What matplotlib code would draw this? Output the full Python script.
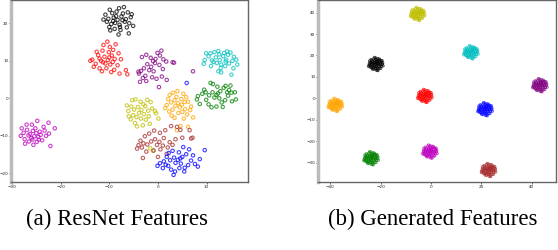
import matplotlib
matplotlib.use("Agg")
import matplotlib.pyplot as plt

# ---- (a) ResNet features: points, one list per class ----
res_black = [(-8.3, 20.9), (-9.1, 21.5), (-7.5, 21.8), (-8.8, 20.1), (-7.9, 19.6), (-9.6, 19.8),
             (-10.2, 21.2), (-6.8, 20.4), (-7.2, 22.6), (-8.5, 23.1), (-9.4, 22.7), (-10.8, 22.3),
             (-6.2, 22.9), (-5.6, 21.6), (-5.1, 19.3), (-6.4, 18.9), (-8.9, 18.5), (-9.8, 18.1),
             (-7.7, 18.2), (-10.5, 20.4), (-11.2, 21.0), (-7.0, 24.3), (-8.0, 24.0), (-9.9, 23.6),
             (-5.4, 22.4), (-6.0, 17.3), (-8.1, 17.0), (-7.3, 20.8), (-8.6, 21.9), (-6.6, 21.1),
             (-9.2, 20.6), (-7.8, 19.0), (-10.0, 19.0), (-5.9, 20.0)]
res_red = [(-10.3, 10.2), (-11.0, 11.1), (-9.5, 11.4), (-10.8, 9.3), (-9.8, 9.0), (-11.7, 10.0),
           (-12.3, 11.5), (-8.9, 10.5), (-10.1, 12.3), (-11.4, 12.7), (-9.2, 12.9), (-12.8, 9.2),
           (-13.5, 10.3), (-13.9, 10.0), (-12.0, 8.0), (-10.6, 8.0), (-9.0, 7.6), (-8.3, 8.8),
           (-7.6, 10.4), (-8.1, 12.0), (-9.9, 13.7), (-11.2, 14.2), (-10.4, 15.1), (-8.7, 14.4),
           (-12.6, 12.4), (-11.5, 7.2), (-9.6, 7.0), (-7.9, 6.6), (-6.6, 7.5), (-6.3, 6.4),
           (-13.2, 8.4), (-10.0, 10.9), (-11.3, 9.6), (-12.0, 10.6), (-9.3, 9.7)]
res_purple = [(-1.4, 8.4), (-2.2, 9.1), (-0.6, 9.4), (-1.8, 7.5), (-0.9, 7.2), (-2.9, 8.0),
              (-3.5, 7.3), (-3.9, 6.6), (-2.6, 6.0), (-1.2, 5.6), (-0.3, 5.2), (-3.1, 5.4),
              (-3.7, 4.4), (-2.4, 4.6), (0.8, 5.8), (1.0, 7.8), (0.3, 8.9), (-0.5, 10.5),
              (0.4, 11.4), (0.7, 12.7), (-0.1, 12.1), (-1.5, 10.8), (-2.4, 11.6), (-3.3, 11.0),
              (1.7, 9.8), (1.1, 10.4), (3.3, 9.5), (3.0, 9.6), (7.2, 7.2), (1.8, 4.9),
              (0.2, 3.0), (-4.0, 7.1), (-1.0, 9.9)]
res_cyan = [(12.7, 10.2), (11.9, 10.9), (13.4, 11.2), (12.1, 9.4), (13.0, 9.0), (11.1, 10.1),
            (10.4, 11.2), (9.6, 10.2), (9.4, 9.2), (10.8, 12.0), (11.6, 12.3), (12.4, 12.6),
            (13.6, 12.1), (14.4, 11.6), (14.9, 12.2), (15.6, 11.1), (16.1, 10.3), (15.3, 10.0),
            (14.6, 9.3), (14.0, 10.3), (13.8, 8.6), (12.9, 8.1), (12.4, 7.2), (13.0, 6.9),
            (15.5, 8.0), (15.1, 6.3), (10.9, 8.6), (11.4, 9.7), (12.6, 11.7), (13.9, 9.8),
            (9.9, 12.0), (16.3, 9.0), (14.2, 12.5)]
res_green = [(12.0, 0.9), (11.2, 1.6), (12.8, 1.9), (11.6, 0.2), (12.6, 0.0), (10.5, 0.8),
             (9.8, 1.6), (9.1, 1.2), (8.2, 0.6), (8.0, -0.3), (8.6, -1.5), (9.9, -0.4),
             (10.4, -1.6), (11.0, -2.4), (12.0, -2.2), (13.1, -1.1), (13.8, -0.5), (14.4, 0.7),
             (15.1, 1.5), (15.8, 1.6), (16.0, -0.3), (15.2, -0.8), (14.6, 2.2), (13.5, 2.8),
             (13.9, 3.3), (14.9, 3.4), (12.2, 3.1), (11.3, 3.8), (10.8, 4.1), (13.3, -2.3),
             (14.2, 1.6), (9.5, 2.3), (12.3, 1.3)]
res_orange = [(4.1, -1.3), (3.4, -0.5), (4.8, -0.2), (3.6, -2.0), (4.5, -2.4), (2.7, -1.1),
              (2.1, -0.2), (1.8, -1.8), (2.4, 0.9), (3.1, 1.5), (4.0, 1.9), (5.2, 1.2),
              (5.8, 0.3), (6.2, -0.9), (6.8, -2.2), (6.6, -3.1), (5.6, -2.9), (5.0, -3.6),
              (4.2, -3.9), (3.0, -3.0), (2.3, -3.5), (6.0, -4.3), (7.2, -5.1), (5.3, -5.4),
              (3.4, -5.2), (4.9, -1.7), (3.8, 0.4), (5.5, -1.0), (1.5, -2.6), (4.6, -7.4),
              (3.9, -8.5), (6.2, -7.6), (2.8, -4.6)]
res_yellow = [(-3.4, -3.1), (-4.1, -2.3), (-2.6, -2.1), (-3.9, -3.9), (-2.9, -4.2), (-4.9, -3.0),
              (-5.5, -2.2), (-6.1, -3.4), (-6.4, -1.9), (-5.3, -0.5), (-4.6, -0.3), (-3.6, -0.9),
              (-2.2, -0.4), (-1.5, -1.0), (-1.2, -2.7), (-0.6, -3.4), (-1.9, -4.8), (-2.5, -5.7),
              (-3.5, -5.4), (-4.4, -5.0), (-5.1, -4.5), (-5.6, -5.6), (-4.7, -6.6), (-3.1, -7.2),
              (-1.7, -6.8), (-0.4, -4.0), (0.1, -5.4), (-2.0, -3.3), (-3.0, -1.6), (-6.0, -4.8),
              (-4.3, -7.5), (-1.0, -14.0), (-1.6, -13.3)]
res_magenta = [(-25.0, -9.3), (-25.7, -8.7), (-24.3, -8.9), (-25.4, -10.1), (-24.6, -10.3), (-26.3, -9.5),
               (-26.9, -8.4), (-27.6, -9.2), (-28.2, -10.0), (-27.4, -10.9), (-26.5, -11.5), (-25.6, -12.4),
               (-24.9, -11.6), (-23.8, -11.2), (-23.0, -10.0), (-22.4, -9.4), (-21.2, -8.0), (-22.5, -6.5),
               (-23.5, -7.6), (-24.8, -6.0), (-25.9, -7.0), (-27.0, -7.0), (-28.0, -8.0), (-26.0, -10.6),
               (-24.1, -9.7), (-23.3, -8.6), (-22.1, -12.7), (-27.3, -12.1), (-25.2, -8.0), (-24.5, -11.0),
               (-26.6, -9.9), (-25.8, -11.0)]
res_brown = [(0.3, -11.6), (-0.6, -10.9), (1.2, -10.6), (-0.2, -12.4), (1.0, -12.6), (-1.4, -11.5),
             (-2.2, -12.3), (-3.0, -12.0), (-3.6, -11.3), (-2.7, -10.1), (-1.8, -9.4), (-0.8, -8.6),
             (0.4, -9.2), (1.5, -8.5), (2.7, -7.4), (3.9, -7.6), (4.6, -8.4), (6.5, -8.5),
             (7.1, -10.5), (6.8, -10.7), (5.0, -10.5), (3.6, -10.9), (2.4, -11.7), (2.0, -13.1),
             (0.5, -13.6), (-0.9, -13.9), (-2.4, -14.2), (-3.3, -13.1), (-4.0, -12.5), (0.0, -15.6),
             (1.8, -14.8), (-4.3, -13.4), (3.0, -12.4), (-3.1, -15.9)]
res_blue = [(4.1, -16.4), (3.3, -15.8), (5.0, -15.6), (3.6, -17.2), (4.7, -17.4), (2.5, -16.5),
            (1.8, -15.6), (1.2, -16.8), (0.4, -17.3), (-0.1, -18.0), (1.0, -18.6), (2.1, -18.0),
            (2.7, -19.0), (3.5, -19.5), (3.2, -20.4), (4.4, -18.6), (5.5, -18.5), (6.2, -17.8),
            (6.8, -16.6), (7.6, -17.5), (8.2, -18.2), (7.2, -15.2), (5.8, -14.9), (4.3, -14.4),
            (3.0, -14.0), (2.2, -14.6), (5.2, -13.0), (6.4, -13.6), (8.6, -16.2), (9.6, -13.8),
            (5.9, 4.1), (5.4, -19.5), (1.6, -17.7), (4.6, -16.0)]

res_groups = [(res_black, 'k'), (res_red, 'r'), (res_purple, 'purple'), (res_cyan, 'c'),
              (res_green, 'g'), (res_orange, 'orange'), (res_yellow, 'y'), (res_magenta, 'm'),
              (res_brown, 'brown'), (res_blue, 'b')]

# ---- (b) generated features: tight blobs, centre of each class ----
gen_colors = ['y', 'c', 'k', 'purple', 'r', 'orange', 'b', 'm', 'g', 'brown']
gen_cx = [-5.3, 15.9, -21.9, 43.3, -2.4, -38.0, 21.5, -0.4, -23.8, 22.9]
gen_cy = [39.4, 21.5, 16.0, 6.1, 1.1, -3.1, -5.1, -24.9, -28.0, -33.5]
blob_rx = 2.7
blob_ry = 2.9
# shape of a blob (unit radius)
blob_dx = [0.0, 0.3, -0.3, 0.1, -0.2, 0.5, -0.5, 0.45, -0.45, 0.7, -0.7, 0.05, -0.05, 0.6, -0.6,
           0.55, -0.6, 0.85, -0.85, 0.8, -0.85, 0.3, -0.3, 0.25, -0.3, 0.95, -0.95, 0.0, 0.1, 0.2,
           -0.2, 0.4, -0.4, 0.15, -0.15, 0.65, -0.65, 0.35, -0.35, 0.75, -0.75, 0.5, -0.5, 1.0, -1.0,
           0.7, -0.7, 0.2, -0.1, 0.1, 0.9, -0.9, 0.45, -0.45, 0.05, 0.0, 1.05, -0.2, 0.3, -1.05]
blob_dy = [0.0, 0.1, 0.2, -0.35, -0.25, 0.35, 0.4, -0.4, -0.45, 0.05, -0.05, 0.7, -0.7, 0.6, 0.55,
           -0.65, -0.6, 0.3, 0.25, -0.35, -0.3, 0.85, 0.85, -0.9, -0.85, -0.05, 0.05, 0.95, -1.0, 0.45,
           0.5, -0.15, -0.1, -0.6, 0.3, -0.15, 0.15, 0.6, -0.6, 0.5, -0.5, 0.8, -0.8, 0.2, -0.2,
           -0.7, 0.7, 0.2, -0.1, 0.15, 0.55, 0.5, 0.05, 0.05, 0.4, -0.45, -0.3, 1.05, -1.05, -0.4]


def style_axes(ax):
    for side in ['top', 'right', 'bottom']:
        ax.spines[side].set_color('#666666')
        ax.spines[side].set_linewidth(1.0)
    ax.spines['left'].set_color('#bbbbbb')
    ax.spines['left'].set_linewidth(2.5)
    ax.tick_params(labelsize=3, length=1.5, width=0.5, pad=0.5, colors='#222222')


fig = plt.figure(figsize=(5.58, 2.5), dpi=100)

ax1 = fig.add_axes([11 / 558, 68 / 250, 237 / 558, 182 / 250])
for pts, col in res_groups:
    xs = [p[0] for p in pts]
    ys = [p[1] for p in pts]
    ax1.scatter(xs, ys, s=6, facecolors='none', edgecolors=col, linewidths=0.8, alpha=0.75)
ax1.set_xlim(-30.2, 18.5)
ax1.set_ylim(-22.3, 26.2)
ax1.set_xticks([-30, -20, -10, 0, 10])
ax1.set_yticks([-20, -10, 0, 10, 20])
style_axes(ax1)

ax2 = fig.add_axes([318 / 558, 68 / 250, 238 / 558, 182 / 250])
for cx, cy, col in zip(gen_cx, gen_cy, gen_colors):
    xs = [cx + blob_rx * d for d in blob_dx]
    ys = [cy + blob_ry * d for d in blob_dy]
    ax2.scatter(xs, ys, s=3, facecolors='none', edgecolors=col, linewidths=0.7, alpha=0.7)
ax2.set_xlim(-44.9, 49.7)
ax2.set_ylim(-39.1, 45.9)
ax2.set_xticks([-40, -20, 0, 20, 40])
ax2.set_yticks([-30, -20, -10, 0, 10, 20, 30, 40])
style_axes(ax2)

fig.text(117 / 558, 1 - 219 / 250, '(a) ResNet Features', ha='center', va='center',
         family='Liberation Serif', fontsize=16.5)
fig.text(433 / 558, 1 - 219 / 250, '(b) Generated Features', ha='center', va='center',
         family='Liberation Serif', fontsize=16.5)

fig.savefig('out.png', dpi=100)
